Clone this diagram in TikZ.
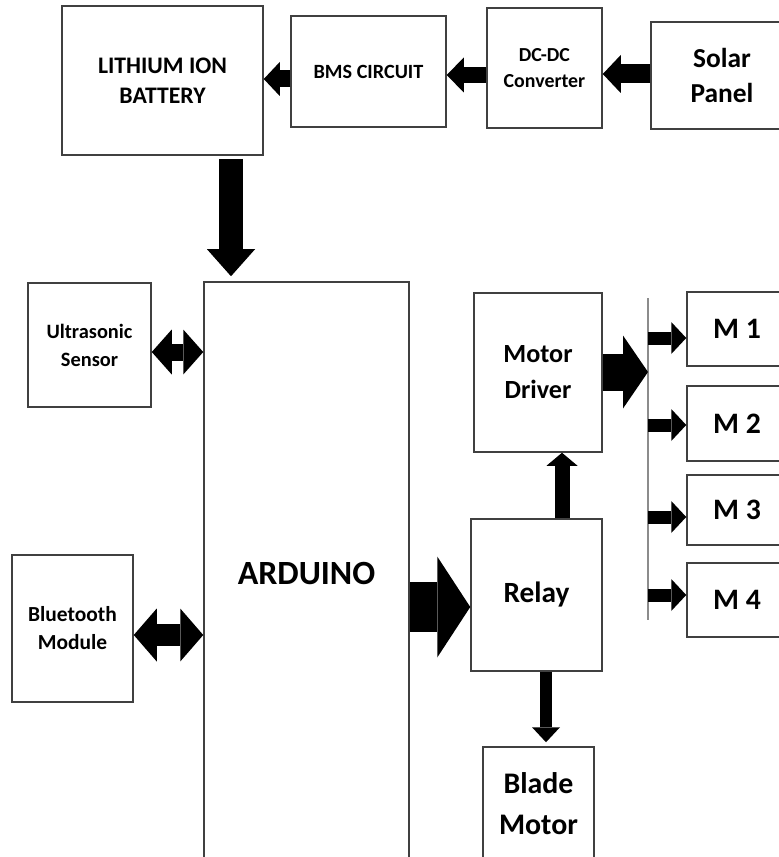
\documentclass[tikz,border=0pt]{standalone}
\usepackage{fontspec}
\setmainfont{Carlito}
\usetikzlibrary{arrows.meta}

\newcommand{\boxfont}[2]{\fontsize{#1}{#2}\selectfont\bfseries}

\tikzset{
  blk/.style={draw=black!75, line width=0.3mm, fill=white, align=center, inner sep=0pt},
  fat/.style n args={3}{line width=#1, -{Triangle[width=#2, length=#3, line width=0pt]}},
  fatboth/.style n args={3}{line width=#1, {Triangle[width=#2, length=#3, line width=0pt]}-{Triangle[width=#2, length=#3, line width=0pt]}},
}

\begin{document}
\begin{tikzpicture}[x=0.2mm, y=-0.2mm]
    \useasboundingbox (0,0) rectangle (779,857);
    \clip (0,0) rectangle (779,857);

    % power chain
    \node[blk, minimum width=40.2mm, minimum height=29.8mm, font=\boxfont{13.5}{17}] (battery) at (162.5,80.5) {LITHIUM ION\\BATTERY};
    \node[blk, minimum width=31mm, minimum height=22.2mm, font=\boxfont{11.5}{14}] (bms) at (368.5,71.5) {BMS CIRCUIT};
    \node[blk, minimum width=23mm, minimum height=24mm, font=\boxfont{11.3}{14.7}] (dcdc) at (544.5,68) {DC-DC\\Converter};
    \node[blk, minimum width=28.4mm, minimum height=21.4mm, font=\boxfont{15.6}{19.8}] (solar) at (722,75.5) {Solar\\Panel};

    % controller and peripherals
    \node[blk, minimum width=41mm, minimum height=116.6mm, font=\boxfont{19.3}{23}] (arduino) at (306.5,573.5) {ARDUINO};
    \node[blk, minimum width=24.6mm, minimum height=24.8mm, font=\boxfont{11.6}{15.9}] (ultra) at (89.5,345) {Ultrasonic\\Sensor};
    \node[blk, minimum width=24.2mm, minimum height=29.4mm, font=\boxfont{12.2}{15.9}] (bt) at (72.5,628.5) {Bluetooth\\Module};

    % drive side
    \node[blk, minimum width=25.6mm, minimum height=31.8mm, font=\boxfont{14.9}{20.4}] (driver) at (538,372.5) {Motor\\Driver};
    \node[blk, minimum width=26.2mm, minimum height=30.4mm, font=\boxfont{16.7}{20}] (relay) at (536.5,595) {Relay};
    \node[blk, minimum width=22.2mm, minimum height=22.6mm, font=\boxfont{17}{23.2}] (blade) at (538.5,803.5) {Blade\\Motor};

    \node[blk, minimum width=20mm, minimum height=14.8mm, font=\boxfont{16.9}{20}] (m1) at (737,329) {M 1};
    \node[blk, minimum width=20mm, minimum height=15mm, font=\boxfont{16.9}{20}] (m2) at (737,423.5) {M 2};
    \node[blk, minimum width=20mm, minimum height=14mm, font=\boxfont{16.9}{20}] (m3) at (737,510) {M 3};
    \node[blk, minimum width=20mm, minimum height=14.8mm, font=\boxfont{16.9}{20}] (m4) at (737,600) {M 4};

    \coordinate (bustop) at (648,298);
    \coordinate (busbot) at (648,620);
    \draw[black!45, line width=0.25mm] (bustop) -- (busbot);

    % arrows
    \draw[fat={3.4mm}{6.8mm}{3.2mm}] (bms.west |- 0,79) -- (battery.east |- 0,79);
    \draw[fat={3.2mm}{7mm}{3.4mm}] (dcdc.west |- 0,75) -- (bms.east |- 0,75);
    \draw[fat={3.8mm}{7.6mm}{3.6mm}] (solar.west |- 0,74) -- (dcdc.east |- 0,74);
    \draw[fat={4.8mm}{9.6mm}{5.4mm}, shorten <=0.6mm, shorten >=1mm] (battery.south -| 231,0) -- (arduino.north -| 231,0);

    \draw[fatboth={3.4mm}{9mm}{4mm}] (ultra.east |- 0,352) -- (arduino.west |- 0,352);
    \draw[fatboth={4.4mm}{10.6mm}{4.6mm}] (bt.east |- 0,635) -- (arduino.west |- 0,635);
    \draw[fat={10mm}{20.2mm}{6.6mm}] (arduino.east |- 0,607) -- (relay.west |- 0,607);

    \draw[fat={3mm}{6.2mm}{2.6mm}] (relay.north -| 562,0) -- (driver.south -| 562,0);
    \draw[fat={2.4mm}{5.6mm}{3mm}, shorten >=0.8mm] (relay.south -| 546,0) -- (blade.north -| 546,0);
    \draw[fat={7.4mm}{14.6mm}{5mm}] (driver.east |- 0,372) -- (bustop |- 0,372);

    \foreach \i/\y in {1/338, 2/425, 3/517, 4/595}
        \draw[fat={2.6mm}{6.4mm}{3mm}] (bustop |- 0,\y) -- (m\i.west |- 0,\y);

\end{tikzpicture}
\end{document}
